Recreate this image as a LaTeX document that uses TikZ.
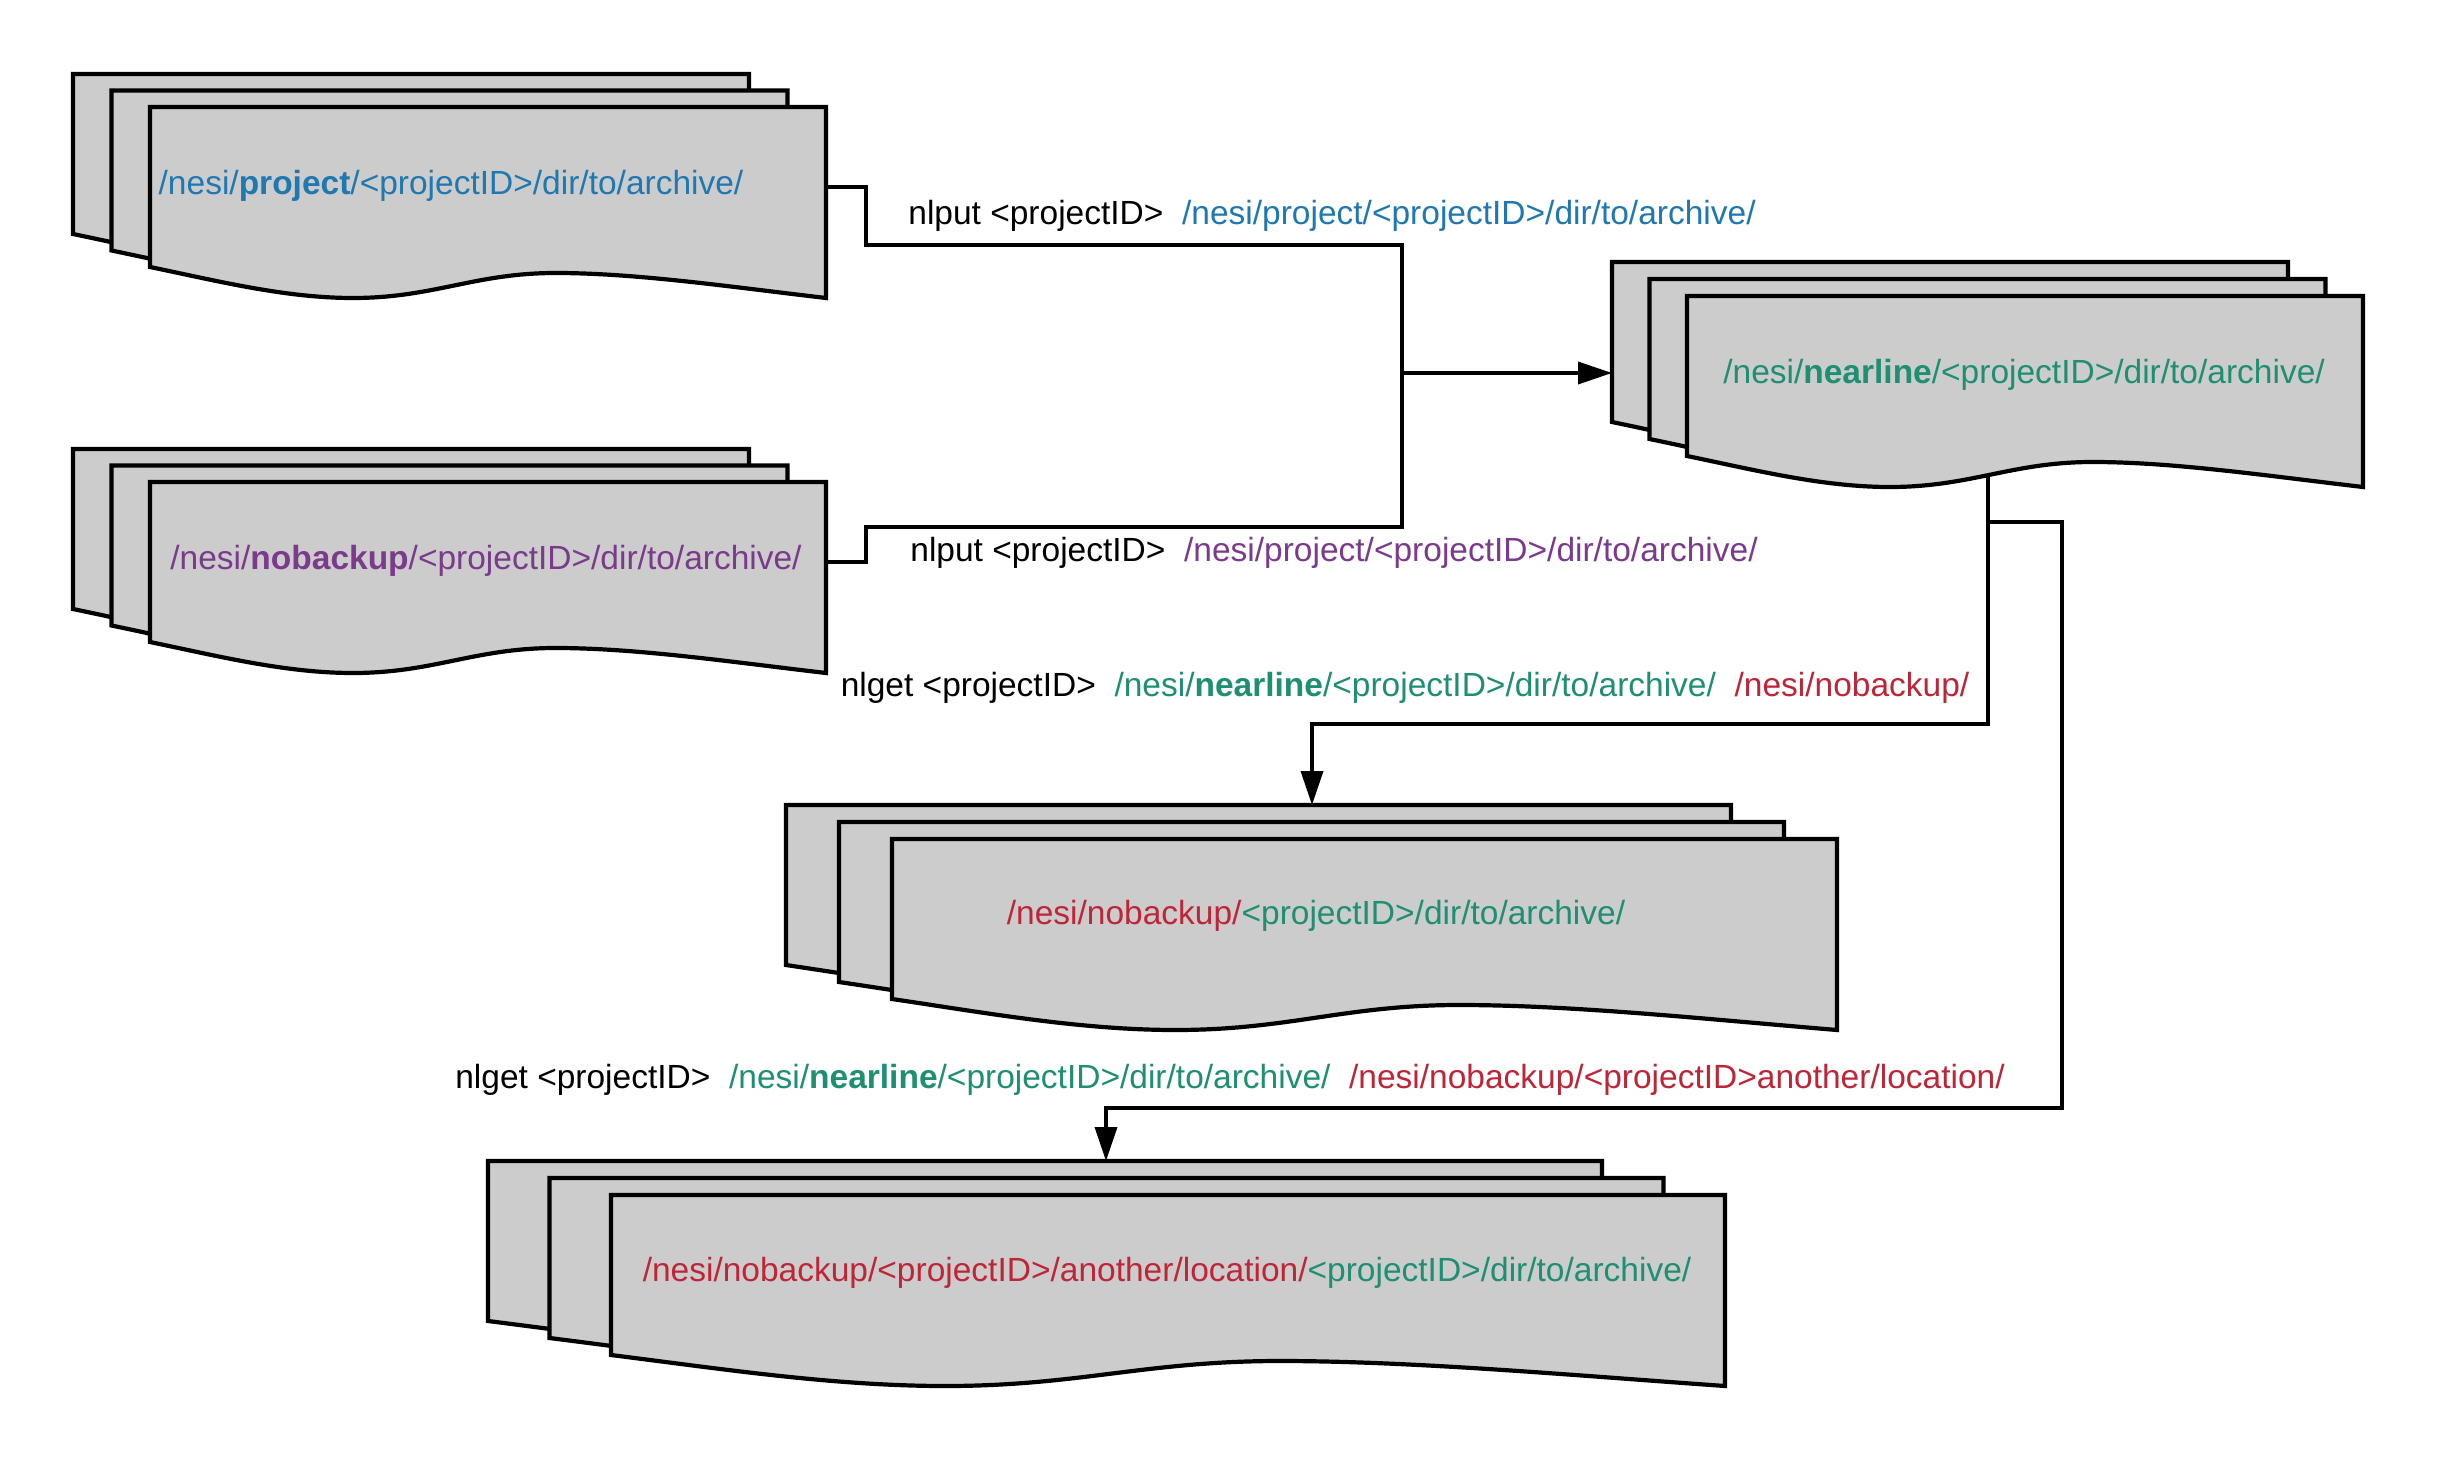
\documentclass[tikz,border=0pt]{standalone}
\usepackage{fontspec}
\setmainfont{Liberation Sans}
\usetikzlibrary{arrows.meta}

\definecolor{pjblue}{HTML}{1F78B0}
\definecolor{nbpurple}{HTML}{7B3A8C}
\definecolor{nlgreen}{HTML}{1E8F73}
\definecolor{nbred}{HTML}{BE2638}
\definecolor{sheetgray}{HTML}{CCCCCC}

\tikzset{
  sheet/.style={draw=black, fill=sheetgray, line width=4.2pt},
  link/.style={draw=black, line width=3.6pt},
  tip/.style={-{Triangle[length=34pt,width=22pt]}},
  lbl/.style={inner sep=0pt, font=\fontsize{33.5}{40}\selectfont},
}

% one wavy sheet: top-left x, top-left y, width
\newcommand{\docsheet}[3]{%
  \draw[sheet] (#1,#2) -- ({#1+#3},#2) -- ({#1+#3},{#2+191})
    .. controls ({#1+0.86*#3},{#2+180}) and ({#1+0.72*#3},{#2+166}) .. ({#1+0.6*#3},{#2+166})
    .. controls ({#1+0.48*#3},{#2+166}) and ({#1+0.42*#3},{#2+191}) .. ({#1+0.3*#3},{#2+191})
    .. controls ({#1+0.2*#3},{#2+191}) and ({#1+0.1*#3},{#2+174}) .. (#1,{#2+160}) -- cycle;}

% three stacked sheets: front x, front y, width, step x, step y
\newcommand{\docstack}[5]{%
  \docsheet{#1-2*#4}{#2-2*#5}{#3}
  \docsheet{#1-#4}{#2-#5}{#3}
  \docsheet{#1}{#2}{#3}}

\begin{document}
\begin{tikzpicture}[x=1pt,y=-1pt]
  \useasboundingbox[fill=white] (0,0) rectangle (2438,1463);

  % stacks
  \docstack{150}{107}{676}{38.5}{16.5}
  \docstack{150}{482}{676}{38.5}{16.5}
  \docstack{1687}{296}{676}{37.5}{17}
  \docstack{892}{839}{945}{53}{17}
  \docstack{611}{1195}{1114}{61.5}{17}

  \node[lbl, text=pjblue] (project) at (451,186)
    {/nesi/\textbf{project}/<projectID>/dir/to/archive/};
  \node[lbl, text=nbpurple] (nobackup) at (486,561)
    {/nesi/\textbf{nobackup}/<projectID>/dir/to/archive/};
  \node[lbl, text=nlgreen] (nearline) at (2024,375)
    {/nesi/\textbf{nearline}/<projectID>/dir/to/archive/};
  \node[lbl] (restore) at (1316,916)
    {\textcolor{nbred}{/nesi/nobackup/}\textcolor{nlgreen}{<projectID>/dir/to/archive/}};
  \node[lbl] (elsewhere) at (1167,1273)
    {\textcolor{nbred}{/nesi/nobackup/<projectID>/another/location/}\textcolor{nlgreen}{<projectID>/dir/to/archive/}};

  % command labels
  \node[lbl] (putpj) at (1332,216)
    {nlput <projectID>~~\textcolor{pjblue}{/nesi/project/<projectID>/dir/to/archive/}};
  \node[lbl] (putnb) at (1334,553)
    {nlput <projectID>~~\textcolor{nbpurple}{/nesi/project/<projectID>/dir/to/archive/}};
  \node[lbl] (getnb) at (1405,688)
    {nlget <projectID>~~\textcolor{nlgreen}{/nesi/\textbf{nearline}/<projectID>/dir/to/archive/}~~\textcolor{nbred}{/nesi/nobackup/}};
  \node[lbl] (getloc) at (1230,1080)
    {nlget <projectID>~~\textcolor{nlgreen}{/nesi/\textbf{nearline}/<projectID>/dir/to/archive/}~~\textcolor{nbred}{/nesi/nobackup/<projectID>another/location/}};

  % connection points
  \coordinate (pjout) at (826,187);
  \coordinate (nbout) at (826,562);
  \coordinate (merge) at (1402,373);
  \coordinate (nlin) at (1612,373);
  \coordinate (nlout) at (1988,476);
  \coordinate (split) at (1988,522);
  \coordinate (restorein) at (1312,805);
  \coordinate (elsewherein) at (1106,1161);

  \draw[link] (pjout) -| (866,245) -- (1402,245) |- (866,527) |- (nbout);
  \draw[link,tip] (merge) -- (nlin);
  \draw[link,tip] (nlout) |- (1312,724) -- (restorein);
  \draw[link,tip] (split) -| (2062,1108) -| (elsewherein);
\end{tikzpicture}
\end{document}
